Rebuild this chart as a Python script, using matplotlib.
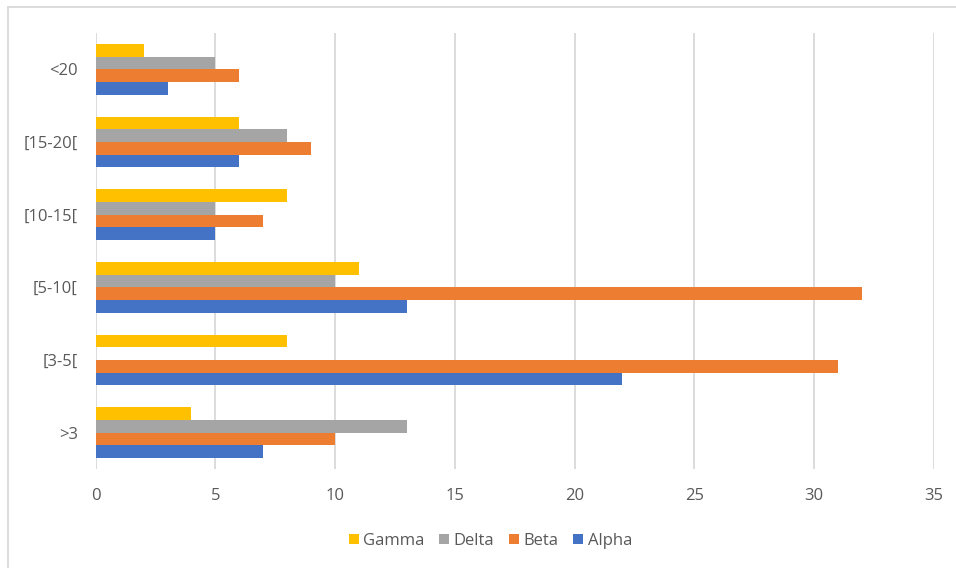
import matplotlib
matplotlib.use("Agg")
import matplotlib.pyplot as plt
import numpy as np
from matplotlib.lines import Line2D

categories = [">3", "[3-5[", "[5-10[", "[10-15[", "[15-20[", "<20"]
alpha = [7, 22, 13, 5, 6, 3]
beta = [10, 31, 32, 7, 9, 6]
delta = [13, 0, 10, 5, 8, 5]
gamma = [4, 8, 11, 8, 6, 2]

series = [("Alpha", alpha, "#4472C4"), ("Beta", beta, "#ED7D31"),
          ("Delta", delta, "#A5A5A5"), ("Gamma", gamma, "#FFC000")]

plt.rcParams['font.family'] = ['Open Sans', 'DejaVu Sans']

fig = plt.figure(figsize=(9.56, 5.68), dpi=100)
ax = fig.add_axes([0.1001, 0.1743, 0.8766, 0.7676])

y = np.arange(len(categories))
h = 0.175
handles = []
for i, (name, vals, col) in enumerate(series):
    b = ax.barh(y + (i - 1.5) * h, vals, height=h, color=col, label=name, zorder=3)
    handles.append(b)

ax.set_xlim(0, 35)
ax.set_ylim(-0.5, len(categories) - 0.5)
ax.set_xticks(range(0, 36, 5))
ax.set_yticks(y)
ax.set_yticklabels(categories)
ax.grid(axis='x', color='#D9D9D9', linewidth=1.3, zorder=0)
for s in ax.spines.values():
    s.set_visible(False)
ax.tick_params(axis='both', length=0, colors='#595959', labelsize=12)
ax.tick_params(axis='x', pad=14)
ax.tick_params(axis='y', pad=13)

ax.legend(handles[::-1], [s[0] for s in series][::-1], loc='center',
          bbox_to_anchor=(0.513, 0.0475), bbox_transform=fig.transFigure,
          ncol=4, frameon=False, fontsize=12, labelcolor='#595959',
          handlelength=0.6, handleheight=0.6, handletextpad=0.25, columnspacing=0.9)

# chart area border (top and left visible)
fig.add_artist(Line2D([8 / 956, 8 / 956], [0, 1 - 7 / 568], color='#D9D9D9', linewidth=1.3))
fig.add_artist(Line2D([8 / 956, 1], [1 - 7 / 568, 1 - 7 / 568], color='#D9D9D9', linewidth=1.3))

fig.savefig("out.png", dpi=100)
